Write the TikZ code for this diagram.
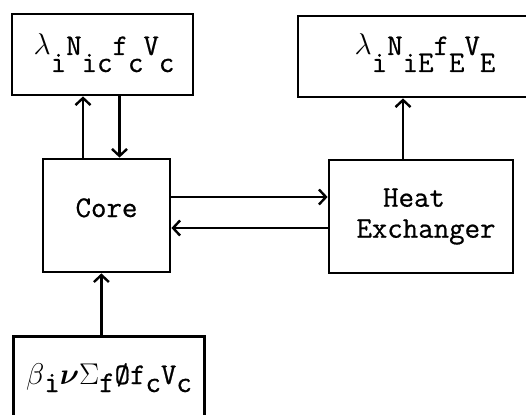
\RequirePackage{fix-cm}
\documentclass[tikz,border=0pt]{standalone}
\usepackage{fontspec}
\usepackage{bm}
\usetikzlibrary{arrows.meta}

% slightly inked typewriter face used throughout
\newfontfamily\typer{Latin Modern Mono}[FakeBold=0.7]
\newcommand\tw{\fontsize{30}{31}\selectfont\typer}
% typed subscripts: same size, dropped below the line
\newcommand\lo[1]{\raisebox{-17pt}{#1}}
\newcommand\lob[1]{\raisebox{-8pt}{#1}}

\tikzset{
  blk/.style={draw, line width=2.8pt, inner sep=0pt, font=\tw},
  txt/.style={inner sep=0pt, font=\tw, anchor=base},
  flow/.style={line width=2.4pt, -{Straight Barb[length=7pt,width=15pt]}},
}

\begin{document}
\begin{tikzpicture}[x=1pt, y=-1pt]
  \useasboundingbox (0,0) rectangle (526,414);
  \clip (0,0) rectangle (526,414);

  % blocks
  \node[blk, minimum width=181pt, minimum height=81pt] (lc) at (102.5,54.5) {};
  \node[blk, minimum width=254pt, minimum height=81pt] (le) at (425,56.5) {};
  \node[blk, minimum width=127pt, minimum height=113pt,
        text height=18pt, text depth=15pt] (core) at (106.5,215.5) {Core};
  \node[blk, minimum width=184pt, minimum height=113pt, align=center]
        (hx) at (421,216.5) {Heat\hspace*{14pt}\\\hspace*{10pt}Exchanger};
  \node[blk, minimum width=191pt, minimum height=100pt, anchor=north west]
        (src) at (12,335) {};

  % block contents
  \node[txt] (lct) at (104,55) {$\lambda$\lo{i}N\lo{ic}f\lo{c}V\lo{c}};
  \node[txt] (let) at (425,55) {$\lambda$\lo{i}N\lo{iE}f\lo{E}V\lo{E}};
  \node[txt] (srct) at (109,384)
        {$\beta$\lob{i}$\bm{\nu}\Sigma$\lob{f}\O f\lob{c}V\lob{c}};

  % connectors
  \draw[flow] ([xshift=-23.5pt]core.north) -- ([xshift=-23.5pt]core.north |- lc.south);
  \draw[flow] ([xshift=13pt]core.north |- lc.south) -- ([xshift=13pt]core.north);
  \draw[flow] ([yshift=18.5pt]core.east) -- ([yshift=18.5pt]core.east -| hx.west);
  \draw[flow] ([yshift=-12.5pt]core.east -| hx.west) -- ([yshift=-12.5pt]core.east);
  \draw[flow] ([xshift=-18pt]hx.north) -- ([xshift=-18pt]hx.north |- le.south);
  \draw[flow] ([xshift=-7.5pt]src.north) -- ([xshift=-7.5pt]src.north |- core.south);
\end{tikzpicture}
\end{document}
